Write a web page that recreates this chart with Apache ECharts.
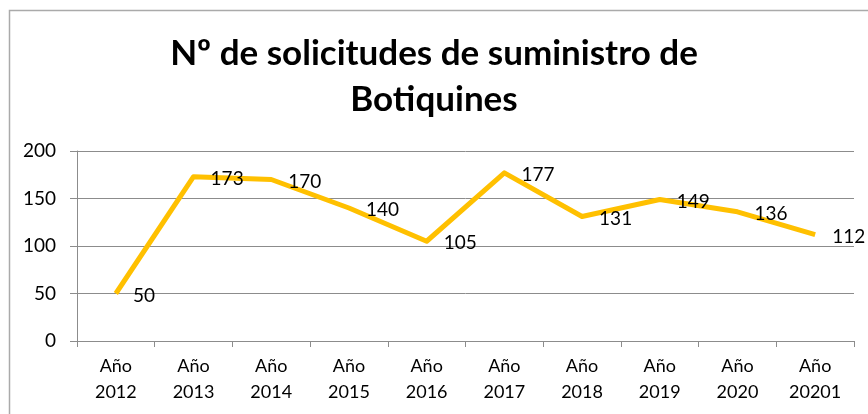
<!DOCTYPE html>
<html>
<head>
<meta charset="utf-8">
<script src="https://cdn.jsdelivr.net/npm/echarts@6/dist/echarts.min.js"></script>
<style>
  html, body { margin: 0; padding: 0; background: #fff; }
  #chart { width: 868px; height: 414px; }
</style>
</head>
<body>
<div id="chart"></div>
<script>
// datos del gráfico
const categorias = ["Año\n2012", "Año\n2013", "Año\n2014", "Año\n2015", "Año\n2016",
  "Año\n2017", "Año\n2018", "Año\n2019", "Año\n2020", "Año\n20201"];
const solicitudes = [50, 173, 170, 140, 105, 177, 131, 149, 136, 112];
const tituloTexto = "Nº de solicitudes de suministro de\nBotiquines";

const fuente = "Lato, 'Open Sans', sans-serif";
const myChart = echarts.init(document.getElementById("chart"));

const option = {
  animation: false,
  textStyle: { fontFamily: fuente },
  title: {
    text: tituloTexto,
    left: "center",
    top: 26,
    textStyle: {
      fontFamily: fuente,
      fontSize: 35,
      fontWeight: "bold",
      color: "#000",
      lineHeight: 46,
      align: "center",
    },
  },
  graphic: [
    {
      type: "rect",
      shape: { x: 9.5, y: 10.5, width: 900, height: 500 },
      style: { fill: "none", stroke: "#aaaaaa", lineWidth: 1.5 },
      silent: true,
    },
  ],
  grid: {
    left: 77,
    right: 14,
    top: 151,
    bottom: 73,
    containLabel: false,
  },
  xAxis: {
    type: "category",
    data: categorias,
    boundaryGap: true,
    axisLine: { lineStyle: { color: "#8c8c8c", width: 1 } },
    axisTick: { show: true, length: 6, lineStyle: { color: "#8c8c8c" } },
    axisLabel: {
      color: "#000",
      fontSize: 18,
      lineHeight: 26,
      margin: 12,
      interval: 0,
    },
  },
  yAxis: {
    type: "value",
    min: 0,
    max: 200,
    interval: 50,
    axisLine: { show: true, lineStyle: { color: "#8c8c8c" } },
    axisTick: { show: true, length: 7, lineStyle: { color: "#8c8c8c" } },
    splitLine: { lineStyle: { color: "#8c8c8c", width: 1 } },
    axisLabel: {
      color: "#000",
      fontSize: 19,
      margin: 21,
    },
  },
  series: [
    {
      name: "Solicitudes",
      type: "line",
      data: solicitudes,
      showSymbol: true,
      symbol: "circle",
      symbolSize: 0.1,
      lineStyle: { color: "#FFC000", width: 5, join: "round" },
      itemStyle: { color: "#FFC000" },
      label: {
        show: true,
        position: "right",
        distance: 17,
        offset: [0, 2],
        color: "#000",
        fontSize: 19,
      },
    },
  ],
};
myChart.setOption(option, true);
</script>
</body>
</html>
